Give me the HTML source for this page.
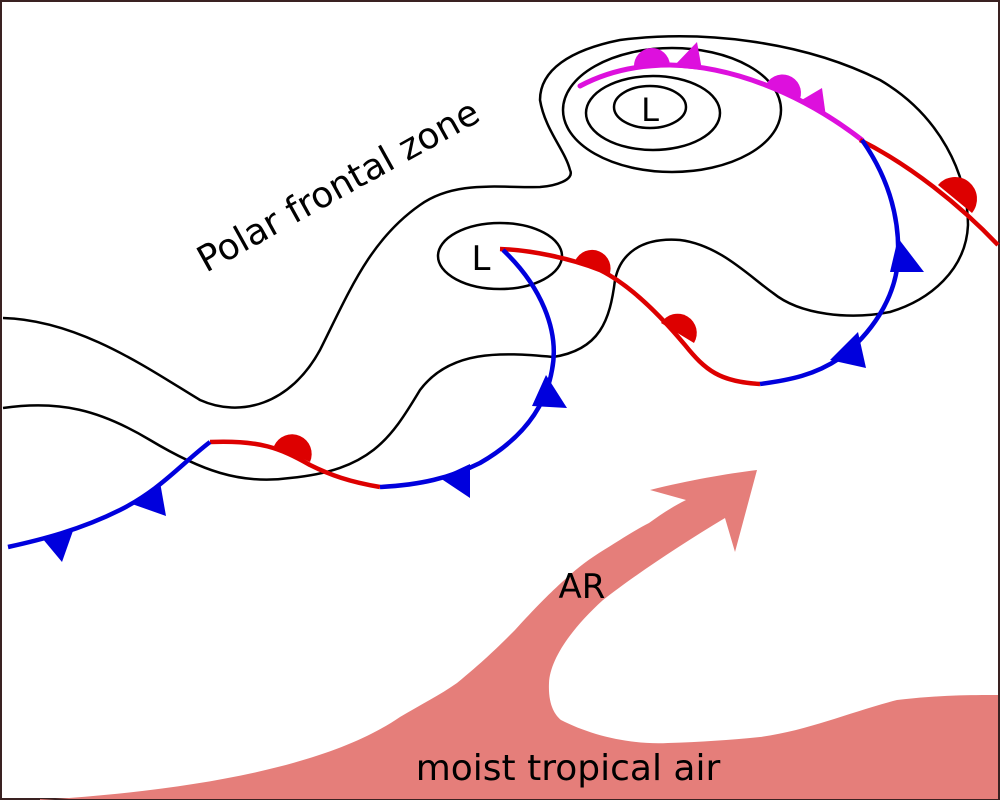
<!DOCTYPE html>
<html><head><meta charset="utf-8"><style>
html,body{margin:0;padding:0;background:#fff}
svg{display:block}
text{font-family:"DejaVu Sans","Liberation Sans",sans-serif;fill:#000}
</style></head><body>
<svg width="1000" height="800" viewBox="0 0 1000 800" xmlns="http://www.w3.org/2000/svg">
<rect x="1" y="1" width="998" height="798" fill="#fff" stroke="#3a2222" stroke-width="2"/>
<!-- moist tropical air / AR -->
<path d="M40,800 C200,790 330,765 400,717 C420,705 440,695 457,683 C485,660 500,645 515,630 C535,608 548,595 561,583 C575,570 585,562 599,553 C620,540 635,530 649,523 C660,515 672,507 686,500 L650,490 C690,480 725,474 757,470 L735,552 L725,518 C680,545 635,575 603,600 C570,630 550,660 549,683 C548,705 555,715 561,720 C590,735 630,745 668,743 C700,742 730,740 760,737 C810,730 850,712 897,700 C940,695 970,695 998,695 L998,799 L40,799 Z" fill="#e57e7a"/>
<!-- contours -->
<g fill="none" stroke="#000" stroke-width="2.5">
<path d="M3,318 C80,320 150,370 200,400 C240,418 290,405 320,350 C350,290 370,240 420,205 C455,180 500,188 540,187 C555,186 575,180 570,170 C565,150 545,130 540,100 C540,70 570,50 620,40 C700,30 800,40 880,80 C940,115 968,175 968,225 C966,270 930,300 890,312 C850,320 800,315 773,293 C750,277 720,245 680,240 C640,237 620,255 615,280 C610,320 600,350 553,357 C500,352 450,350 420,390 C390,440 370,470 290,478 C240,485 200,470 150,440 C100,410 60,400 3,408"/>
<ellipse cx="672" cy="110" rx="109" ry="62"/>
<ellipse cx="653" cy="113" rx="67" ry="37"/>
<ellipse cx="650" cy="107" rx="36" ry="21"/>
<ellipse cx="500" cy="256" rx="62" ry="33"/>
</g>
<text x="650" y="121" font-size="32" text-anchor="middle">L</text>
<text x="481" y="270" font-size="34" text-anchor="middle">L</text>
<!-- occluded front -->
<g fill="#dd10dd">
<path d="M580,86 C610,70 640,65 670,65 C730,66 800,92 862,140" fill="none" stroke="#dd10dd" stroke-width="5" stroke-linecap="round"/>
<path d="M634,67 A18,18 0 0 1 670,65 Z"/>
<path d="M673,67 L702,70 L697,42 Z"/>
<path d="M765,87 A18,18 0 0 1 800,99 Z"/>
<path d="M800,101 L826,117 L822,88 Z"/>
</g>
<!-- warm fronts -->
<g fill="#dd0000">
<path d="M860,140 C910,165 960,205 998,245" fill="none" stroke="#dd0000" stroke-width="4.5"/>
<path d="M938,185 A18,18 0 0 1 972,213 Z"/>
<path d="M760,384 C720,382 705,370 685,345 C660,315 630,285 600,270 C570,258 530,250 500,249" fill="none" stroke="#dd0000" stroke-width="4.5"/>
<path d="M575,261 A18,18 0 0 1 609,276 Z"/>
<path d="M661,323 A18,18 0 0 1 694,343 Z"/>
<path d="M380,487 C350,482 330,475 310,465 C280,448 260,440 210,442" fill="none" stroke="#dd0000" stroke-width="4.5"/>
<path d="M274,446 A18,18 0 0 1 310,462 Z"/>
</g>
<!-- cold fronts -->
<g fill="#0000dd">
<path d="M862,140 C890,180 900,220 898,260 C895,300 870,335 840,358 C815,375 790,380 760,384" fill="none" stroke="#0000dd" stroke-width="4.5"/>
<path d="M898,238 L924,272 L890,272 Z"/>
<path d="M858,332 L866,368 L830,360 Z"/>
<path d="M503,250 C540,285 560,330 552,370 C545,410 520,440 480,463 C450,478 420,485 380,487" fill="none" stroke="#0000dd" stroke-width="4.5"/>
<path d="M546,375 L567,408 L532,406 Z"/>
<path d="M470,464 L470,498 L440,478 Z"/>
<path d="M210,442 C180,465 160,490 120,510 C80,530 40,540 8,547" fill="none" stroke="#0000dd" stroke-width="4.5"/>
<path d="M160,482 L166,516 L132,504 Z"/>
<path d="M74,528 L62,562 L42,538 Z"/>
</g>
<!-- labels -->
<text x="0" y="0" font-size="36" transform="translate(206,273) rotate(-29)">Polar frontal zone</text>
<text x="582" y="598" font-size="34" text-anchor="middle">AR</text>
<text x="568" y="780" font-size="36" text-anchor="middle">moist tropical air</text>
</svg>
</body></html>
